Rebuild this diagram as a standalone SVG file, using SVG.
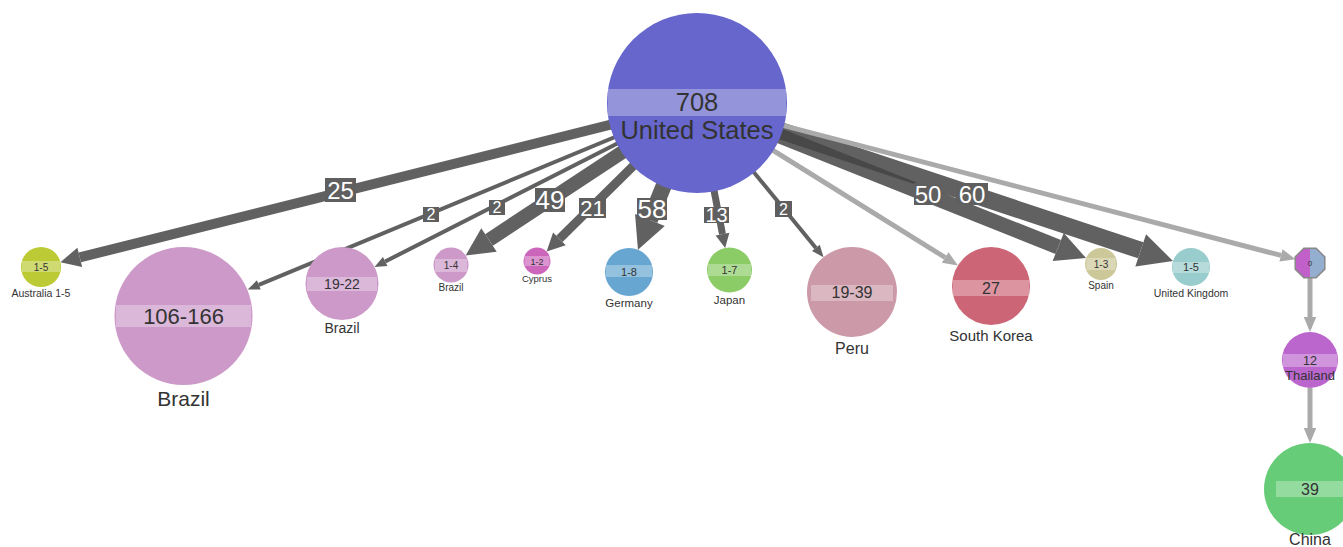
<svg xmlns="http://www.w3.org/2000/svg" width="1343" height="547" viewBox="0 0 1343 547">
<style>
text{font-family:"Liberation Sans",Arial,sans-serif;fill:#333;text-anchor:middle}
.e{fill:none;stroke:#444;opacity:0.84}
.l{fill:none;stroke:#aaa}
.band{fill:#fff;fill-opacity:0.3}
.el rect{fill:#5f5f5f}
.el text{fill:#fff}
</style>
<defs>
<marker id="ak" markerUnits="strokeWidth" markerWidth="2" markerHeight="2" refX="0" refY="1" orient="auto" overflow="visible"><path d="M0,0 L2,1 L0,2 z" fill="#444"/></marker>
<marker id="at" markerUnits="strokeWidth" markerWidth="3" markerHeight="2.5" refX="0" refY="1.25" orient="auto" overflow="visible"><path d="M0,0 L3,1.25 L0,2.5 z" fill="#444"/></marker>
<marker id="al" markerUnits="strokeWidth" markerWidth="3" markerHeight="2.5" refX="0" refY="1.25" orient="auto" overflow="visible"><path d="M0,0 L3,1.25 L0,2.5 z" fill="#aaa"/></marker>
</defs>
<g id="connectors">
<path class="e" stroke-width="10" marker-end="url(#ak)" d="M697,103 L79.8,257.4"/>
<path class="e" stroke-width="4" marker-end="url(#at)" d="M697,103 L258.8,284.9"/>
<path class="e" stroke-width="4" marker-end="url(#at)" d="M697,103 L385.2,261.5"/>
<path class="e" stroke-width="14" marker-end="url(#ak)" d="M697,103 L489,240"/>
<path class="e" stroke-width="9" marker-end="url(#ak)" d="M697,103 L559.4,238.9"/>
<path class="e" stroke-width="16" marker-end="url(#ak)" d="M697,103 L649.9,220"/>
<path class="e" stroke-width="7" marker-end="url(#ak)" d="M697,103 L722.5,234.2"/>
<path class="e" stroke-width="4" marker-end="url(#at)" d="M697,103 L815.9,247.9"/>
<path class="l" stroke-width="5" marker-end="url(#al)" d="M697,103 L945.2,257.5"/>
<path class="e" stroke-width="15" marker-end="url(#ak)" d="M697,103 L1058.2,247"/>
<path class="e" stroke-width="17" marker-end="url(#ak)" d="M697,103 L1140.7,250.3"/>
<path class="l" stroke-width="5" marker-end="url(#al)" d="M697,103 L1281,255.4"/>
<path class="l" stroke-width="5" marker-end="url(#al)" d="M1310,278 L1310,317"/>
<path class="l" stroke-width="5" marker-end="url(#al)" d="M1310,388 L1310,428"/>
<g class="el">
<rect x="325" y="178" width="31" height="24"/><text x="340.5" y="198.5" font-size="24">25</text>
<rect x="423" y="207" width="16" height="15"/><text x="431" y="220" font-size="16">2</text>
<rect x="489" y="200" width="16" height="15"/><text x="497" y="213" font-size="16">2</text>
<rect x="535" y="188" width="30" height="24"/><text x="550" y="209" font-size="26">49</text>
<rect x="579" y="198" width="27" height="20"/><text x="592.5" y="216" font-size="22">21</text>
<rect x="637" y="198" width="30" height="22"/><text x="652" y="218" font-size="26">58</text>
<rect x="704" y="207" width="25" height="16"/><text x="716.5" y="222" font-size="20">13</text>
<rect x="775" y="201" width="17" height="16"/><text x="783.5" y="215" font-size="16">2</text>
<rect x="914" y="183" width="28" height="22"/><text x="928" y="202.5" font-size="24">50</text>
<rect x="956" y="183" width="32" height="22"/><text x="972" y="202.5" font-size="24">60</text>
</g>
</g>
<g id="us"><circle cx="697" cy="103" r="90" fill="#6666cc"/><rect class="band" x="608" y="89" width="178" height="27"/><text x="697" y="110.5" font-size="25.5">708</text><text x="697" y="139" font-size="25.5">United States</text></g>
<g id="australia"><circle cx="41" cy="267" r="20" fill="#bccb35"/><rect class="band" x="22" y="261" width="38" height="11"/><text x="41" y="270.5" font-size="10">1-5</text><text x="41" y="297" font-size="10.5">Australia 1-5</text></g>
<g id="brazil1"><circle cx="183.5" cy="316" r="69" fill="#cc99c9"/><rect class="band" x="116" y="305" width="135" height="22"/><text x="183.5" y="323.5" font-size="22">106-166</text><text x="183.5" y="406" font-size="21">Brazil</text></g>
<g id="brazil2"><circle cx="342" cy="283.5" r="36.5" fill="#cc99c9"/><rect class="band" x="307" y="277" width="70" height="14"/><text x="342" y="289" font-size="14">19-22</text><text x="342" y="333" font-size="14">Brazil</text></g>
<g id="brazil3"><circle cx="451" cy="265" r="17.5" fill="#cc99c9"/><rect class="band" x="435" y="259" width="32" height="13"/><text x="451" y="269" font-size="10">1-4</text><text x="451" y="291" font-size="10">Brazil</text></g>
<g id="cyprus"><circle cx="537" cy="261" r="13.5" fill="#cc66bb"/><rect class="band" x="524.5" y="256" width="25" height="10"/><text x="537" y="264.5" font-size="9">1-2</text><text x="537" y="282" font-size="9.5">Cyprus</text></g>
<g id="germany"><circle cx="629" cy="272" r="24" fill="#66a6d0"/><rect class="band" x="606" y="265" width="46" height="12"/><text x="629" y="275.5" font-size="11">1-8</text><text x="629" y="307" font-size="11.5">Germany</text></g>
<g id="japan"><circle cx="729.5" cy="270" r="22.5" fill="#8ccc66"/><rect class="band" x="708" y="264" width="43" height="12"/><text x="729.5" y="274" font-size="11">1-7</text><text x="729.5" y="304" font-size="11.5">Japan</text></g>
<g id="peru"><circle cx="852" cy="292" r="45" fill="#cc99a8"/><rect class="band" x="811" y="285" width="82" height="16"/><text x="852" y="298" font-size="16">19-39</text><text x="852" y="354" font-size="16">Peru</text></g>
<g id="southkorea"><circle cx="991" cy="286" r="39" fill="#cc6677"/><rect class="band" x="953" y="280" width="76" height="16"/><text x="991" y="293.5" font-size="16">27</text><text x="991" y="341" font-size="15">South Korea</text></g>
<g id="spain"><circle cx="1101" cy="264" r="16" fill="#ccc899"/><rect class="band" x="1086.5" y="258" width="29" height="12"/><text x="1101" y="267.5" font-size="10">1-3</text><text x="1101" y="289" font-size="10">Spain</text></g>
<g id="uk"><circle cx="1191" cy="267" r="19" fill="#99cccc"/><rect class="band" x="1173" y="262" width="36" height="11"/><text x="1191" y="271" font-size="11">1-5</text><text x="1191" y="297" font-size="10.5">United Kingdom</text></g>
<g id="hub"><polygon points="1310,248.2 1303.9,248.2 1295.2,256.9 1295.2,269.1 1303.9,277.8 1310,277.8" fill="#c060c8"/><polygon points="1310,248.2 1316.1,248.2 1324.8,256.9 1324.8,269.1 1316.1,277.8 1310,277.8" fill="#94aed0"/><polygon points="1324.8,269.1 1316.1,277.8 1303.9,277.8 1295.2,269.1 1295.2,256.9 1303.9,248.2 1316.1,248.2 1324.8,256.9" fill="none" stroke="#888" stroke-width="1.5"/><text x="1310" y="266" font-size="8">0</text></g>
<g id="thailand"><circle cx="1310" cy="360" r="28" fill="#bb66cc"/><rect class="band" x="1283" y="354" width="54" height="13"/><text x="1310" y="364.5" font-size="12.5">12</text><text x="1310" y="379.5" font-size="13">Thailand</text></g>
<g id="china"><circle cx="1310" cy="489" r="46" fill="#66cc77"/><rect class="band" x="1276" y="481" width="70" height="16"/><text x="1310" y="495" font-size="16">39</text><text x="1310" y="545" font-size="16">China</text></g>
</svg>
